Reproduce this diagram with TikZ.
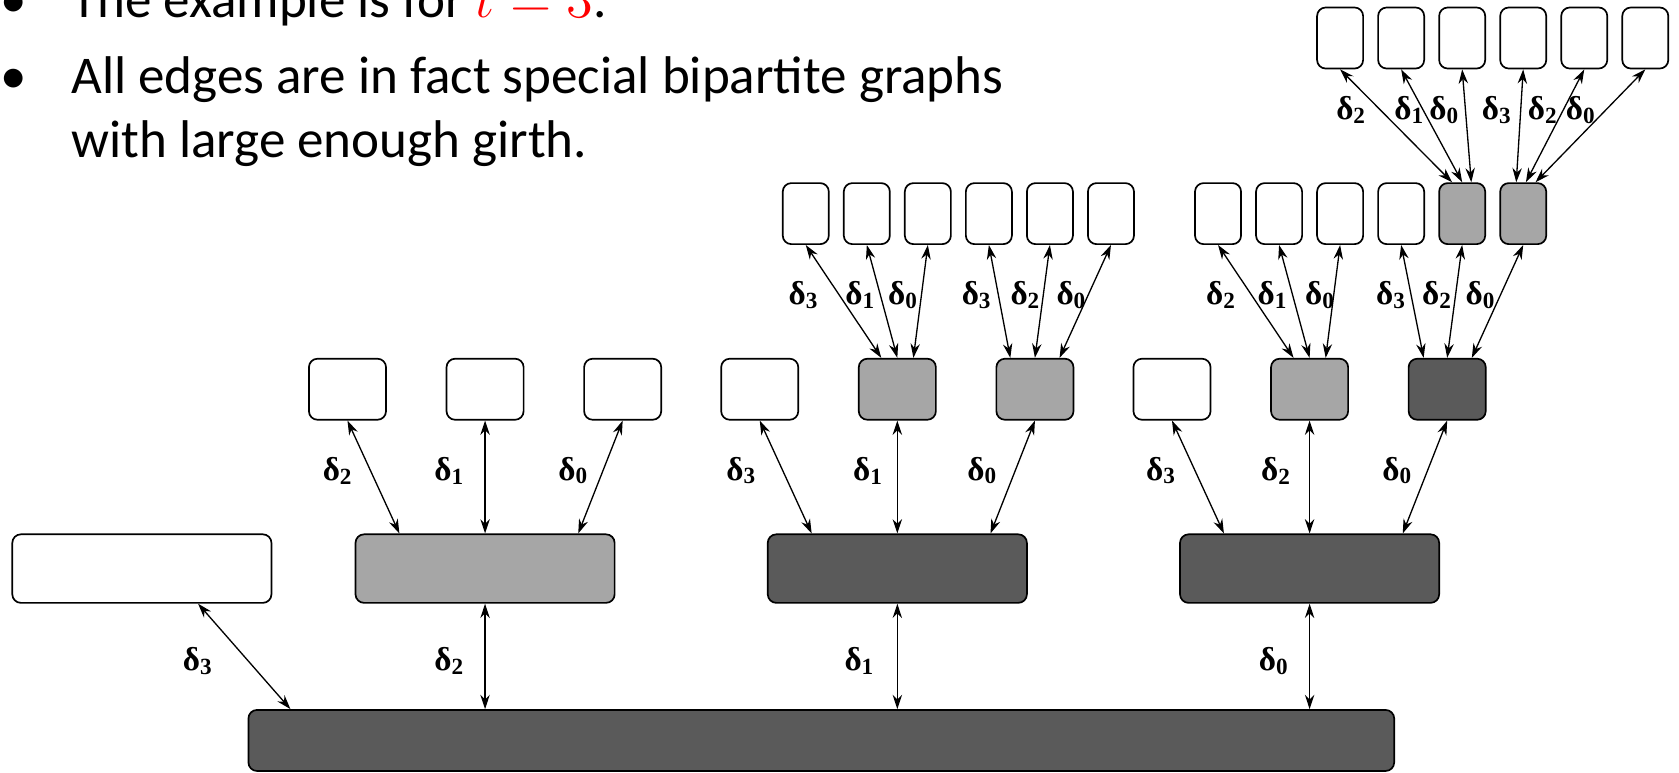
\documentclass[tikz,border=0pt]{standalone}
\usepackage{fontspec}
\setmainfont{Carlito}
\newfontfamily\lblfont{Liberation Serif}
\usetikzlibrary{arrows.meta}
\definecolor{lightfill}{RGB}{166,166,166}
\definecolor{darkfill}{RGB}{90,90,90}
\newcommand{\dl}[1]{δ\textsubscript{#1}}

\begin{document}
\begin{tikzpicture}[
		box/.style={draw,rounded corners=0.8mm,inner sep=0pt,line width=0.45pt},
		wide/.style={box,minimum width=2.42cm,minimum height=0.64cm},
		sq/.style={box,minimum width=0.72cm,minimum height=0.57cm},
		slim/.style={box,minimum width=0.43cm,minimum height=0.57cm},
		con/.style={{Stealth[length=3.8pt,width=2.5pt]}-{Stealth[length=3.8pt,width=2.5pt]},line width=0.35pt},
		lbl/.style={font=\lblfont\bfseries\fontsize{8.8}{10}\selectfont,inner sep=0pt},
		txt/.style={anchor=base west,inner sep=0pt,font=\fontsize{14.1}{17}\selectfont}]
		\useasboundingbox (0,0) rectangle (15.68,7.21);
		
		\node[txt,anchor=base] (dot1) at (0.13,7.05) {•};
		\node[txt] (line1) at (0.66,7.05) {The example is for {\color{red}$t = 3$}.};
		\node[txt,anchor=base] (dot2) at (0.13,6.34) {•};
		\node[txt] (line2) at (0.66,6.34) {All edges are in fact special bipartite graphs};
		\node[txt] (line3) at (0.66,5.74) {with large enough girth.};
		
		\node[box,fill=darkfill,minimum width=10.70cm,minimum height=0.57cm] (root) at (7.67,0.295) {};
		
		\node[wide] (a0) at (1.325,1.90) {};
		\node[wide,fill=lightfill] (a1) at (4.53,1.90) {};
		\node[wide,fill=darkfill] (a2) at (8.38,1.90) {};
		\node[wide,fill=darkfill] (a3) at (12.23,1.90) {};
		
		\node[sq] (b1) at (3.245,3.575) {};
		\node[sq] (b2) at (4.53,3.575) {};
		\node[sq] (b3) at (5.815,3.575) {};
		\node[sq] (b4) at (7.095,3.575) {};
		\node[sq,fill=lightfill] (b5) at (8.38,3.575) {};
		\node[sq,fill=lightfill] (b6) at (9.665,3.575) {};
		\node[sq] (b7) at (10.945,3.575) {};
		\node[sq,fill=lightfill] (b8) at (12.23,3.575) {};
		\node[sq,fill=darkfill] (b9) at (13.515,3.575) {};
		
		\node[slim] (c1) at (7.525,5.215) {};
		\node[slim] (c2) at (8.095,5.215) {};
		\node[slim] (c3) at (8.665,5.215) {};
		\node[slim] (c4) at (9.235,5.215) {};
		\node[slim] (c5) at (9.805,5.215) {};
		\node[slim] (c6) at (10.375,5.215) {};
		\node[slim] (c7) at (11.375,5.215) {};
		\node[slim] (c8) at (11.945,5.215) {};
		\node[slim] (c9) at (12.515,5.215) {};
		\node[slim] (c10) at (13.085,5.215) {};
		\node[slim,fill=lightfill] (c11) at (13.655,5.215) {};
		\node[slim,fill=lightfill] (c12) at (14.225,5.215) {};
		
		\node[slim] (d1) at (12.515,6.855) {};
		\node[slim] (d2) at (13.085,6.855) {};
		\node[slim] (d3) at (13.655,6.855) {};
		\node[slim] (d4) at (14.225,6.855) {};
		\node[slim] (d5) at (14.795,6.855) {};
		\node[slim] (d6) at (15.365,6.855) {};
		
		\draw[con] ([xshift=4mm]root.north west) -- ([xshift=5.25mm]a0.south) node[lbl,midway,xshift=-4.3mm,yshift=-0.4mm] {\dl3};
		\draw[con] (a1 |- root.north) -- (a1.south) node[lbl,midway,xshift=-3.3mm,yshift=-0.4mm] {\dl2};
		\draw[con] (a2 |- root.north) -- (a2.south) node[lbl,midway,xshift=-3.5mm,yshift=-0.4mm] {\dl1};
		\draw[con] (a3 |- root.north) -- (a3.south) node[lbl,midway,xshift=-3.3mm,yshift=-0.4mm] {\dl0};
		
		\draw[con] ([xshift=-8mm]a1.north) -- (b1.south) node[lbl,midway,xshift=-3.3mm,yshift=0.6mm] {\dl2};
		\draw[con] (a1.north) -- (b2.south) node[lbl,midway,xshift=-3.3mm,yshift=0.6mm] {\dl1};
		\draw[con] ([xshift=8.7mm]a1.north) -- (b3.south) node[lbl,midway,xshift=-2.5mm,yshift=0.6mm] {\dl0};
		\draw[con] ([xshift=-8mm]a2.north) -- (b4.south) node[lbl,midway,xshift=-4.1mm,yshift=0.6mm] {\dl3};
		\draw[con] (a2.north) -- (b5.south) node[lbl,midway,xshift=-2.7mm,yshift=0.6mm] {\dl1};
		\draw[con] ([xshift=8.7mm]a2.north) -- (b6.south) node[lbl,midway,xshift=-2.8mm,yshift=0.6mm] {\dl0};
		\draw[con] ([xshift=-8mm]a3.north) -- (b7.south) node[lbl,midway,xshift=-3.4mm,yshift=0.6mm] {\dl3};
		\draw[con] (a3.north) -- (b8.south) node[lbl,midway,xshift=-3.1mm,yshift=0.6mm] {\dl2};
		\draw[con] ([xshift=8.7mm]a3.north) -- (b9.south) node[lbl,midway,xshift=-2.55mm,yshift=0.6mm] {\dl0};
		
		\draw[con] ([xshift=-1.5mm]b5.north) -- (c1.south) node[lbl,midway,xshift=-3.7mm,yshift=0.6mm] {\dl3};
		\draw[con] (b5.north) -- (c2.south) node[lbl,midway,xshift=-2mm,yshift=0.6mm] {\dl1};
		\draw[con] ([xshift=1.5mm]b5.north) -- (c3.south) node[lbl,midway,xshift=-1.6mm,yshift=0.6mm] {\dl0};
		\draw[con] ([xshift=-2.3mm]b6.north) -- (c4.south) node[lbl,midway,xshift=-2.1mm,yshift=0.6mm] {\dl3};
		\draw[con] (b6.north) -- (c5.south) node[lbl,midway,xshift=-1.55mm,yshift=0.6mm] {\dl2};
		\draw[con] ([xshift=2.3mm]b6.north) -- (c6.south) node[lbl,midway,xshift=-1.25mm,yshift=0.6mm] {\dl0};
		\draw[con] ([xshift=-1.5mm]b8.north) -- (c7.south) node[lbl,midway,xshift=-3.2mm,yshift=0.6mm] {\dl2};
		\draw[con] (b8.north) -- (c8.south) node[lbl,midway,xshift=-2mm,yshift=0.6mm] {\dl1};
		\draw[con] ([xshift=1.5mm]b8.north) -- (c9.south) node[lbl,midway,xshift=-1.15mm,yshift=0.6mm] {\dl0};
		\draw[con] ([xshift=-2.2mm]b9.north) -- (c10.south) node[lbl,midway,xshift=-1.95mm,yshift=0.6mm] {\dl3};
		\draw[con] (b9.north) -- (c11.south) node[lbl,midway,xshift=-1.6mm,yshift=0.6mm] {\dl2};
		\draw[con] ([xshift=2.3mm]b9.north) -- (c12.south) node[lbl,midway,xshift=-1.55mm,yshift=0.6mm] {\dl0};
		
		\draw[con] ([xshift=-0.95mm]c11.north) -- (d1.south) node[lbl,midway,xshift=-4.15mm,yshift=1.45mm] {\dl2};
		\draw[con] (c11.north) -- (d2.south) node[lbl,midway,xshift=-2.05mm,yshift=1.45mm] {\dl1};
		\draw[con] ([xshift=0.85mm]c11.north) -- (d3.south) node[lbl,midway,xshift=-2.05mm,yshift=1.45mm] {\dl0};
		\draw[con] ([xshift=-0.65mm]c12.north) -- (d4.south) node[lbl,midway,xshift=-2.1mm,yshift=1.45mm] {\dl3};
		\draw[con] ([xshift=0.25mm]c12.north) -- (d5.south) node[lbl,midway,xshift=-1.1mm,yshift=1.45mm] {\dl2};
		\draw[con] ([xshift=1.15mm]c12.north) -- (d6.south) node[lbl,midway,xshift=-0.85mm,yshift=1.45mm] {\dl0};
\end{tikzpicture}
\end{document}
